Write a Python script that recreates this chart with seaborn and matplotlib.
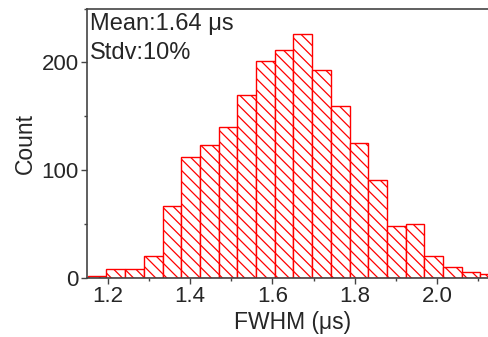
import matplotlib
matplotlib.use("Agg")
import matplotlib.pyplot as plt
import seaborn as sns
import numpy as np
from matplotlib.ticker import MultipleLocator

# Data
bin_edges = [1.152, 1.197, 1.243, 1.288, 1.334, 1.379, 1.424, 1.470, 1.515,
             1.561, 1.606, 1.651, 1.697, 1.742, 1.788, 1.833, 1.878, 1.924,
             1.969, 2.015, 2.060, 2.105, 2.151]
counts = [1, 8, 8, 20, 66, 112, 123, 140, 170, 201, 211, 226, 193, 159,
          125, 91, 48, 50, 20, 10, 5, 3]
x_label = "FWHM (\u03bcs)"
y_label = "Count"
annot_lines = ["Mean:1.64 \u03bcs", "Stdv:10%"]

DPI = 100

sns.set_style("white")
plt.rcParams["font.family"] = ["Liberation Sans", "DejaVu Sans"]
plt.rcParams["hatch.linewidth"] = 0.9
plt.rcParams["hatch.color"] = "red"

centers = [(bin_edges[i] + bin_edges[i + 1]) / 2 for i in range(len(counts))]

fig = plt.figure(figsize=(488 / DPI, 337 / DPI), dpi=DPI)
ax = fig.add_axes([87 / 488, 1 - 277.5 / 337, 1.02 - 87 / 488, (277.5 - 8.5) / 337])

sns.histplot(x=centers, weights=counts, bins=bin_edges, ax=ax,
             element="bars", fill=True, color="white", edgecolor="red",
             linewidth=1.0, alpha=1.0)
for p in ax.patches:
    p.set_hatch("\\\\\\")
    p.set_facecolor("white")
    p.set_edgecolor("red")

ax.set_xlim(1.15, 2.147)
ax.set_ylim(0, 250)
ax.xaxis.set_major_locator(MultipleLocator(0.2))
ax.xaxis.set_minor_locator(MultipleLocator(0.1))
ax.yaxis.set_major_locator(MultipleLocator(100))
ax.yaxis.set_minor_locator(MultipleLocator(50))
ax.xaxis.set_major_formatter(matplotlib.ticker.FormatStrFormatter("%.1f"))

ax.tick_params(axis="both", which="major", direction="out", length=4, width=1,
               color="#444444", labelsize=16, pad=2,
               bottom=True, left=True, top=False, right=False)
ax.tick_params(axis="both", which="minor", direction="out", length=2.5, width=1,
               color="#444444", bottom=True, left=True, top=False, right=False)

for side in ["left", "top", "bottom", "right"]:
    ax.spines[side].set_color("#444444")
    ax.spines[side].set_linewidth(1.2)
ax.spines["right"].set_visible(False)

ax.set_xlabel(x_label, fontsize=16.5, labelpad=3)
ax.set_ylabel(y_label, fontsize=16.5, labelpad=3)

ax.text(0.008, 0.985, annot_lines[0], transform=ax.transAxes, fontsize=17,
        va="top", ha="left")
ax.text(0.008, 0.875, annot_lines[1], transform=ax.transAxes, fontsize=17,
        va="top", ha="left")

fig.savefig("out.png", dpi=DPI)
